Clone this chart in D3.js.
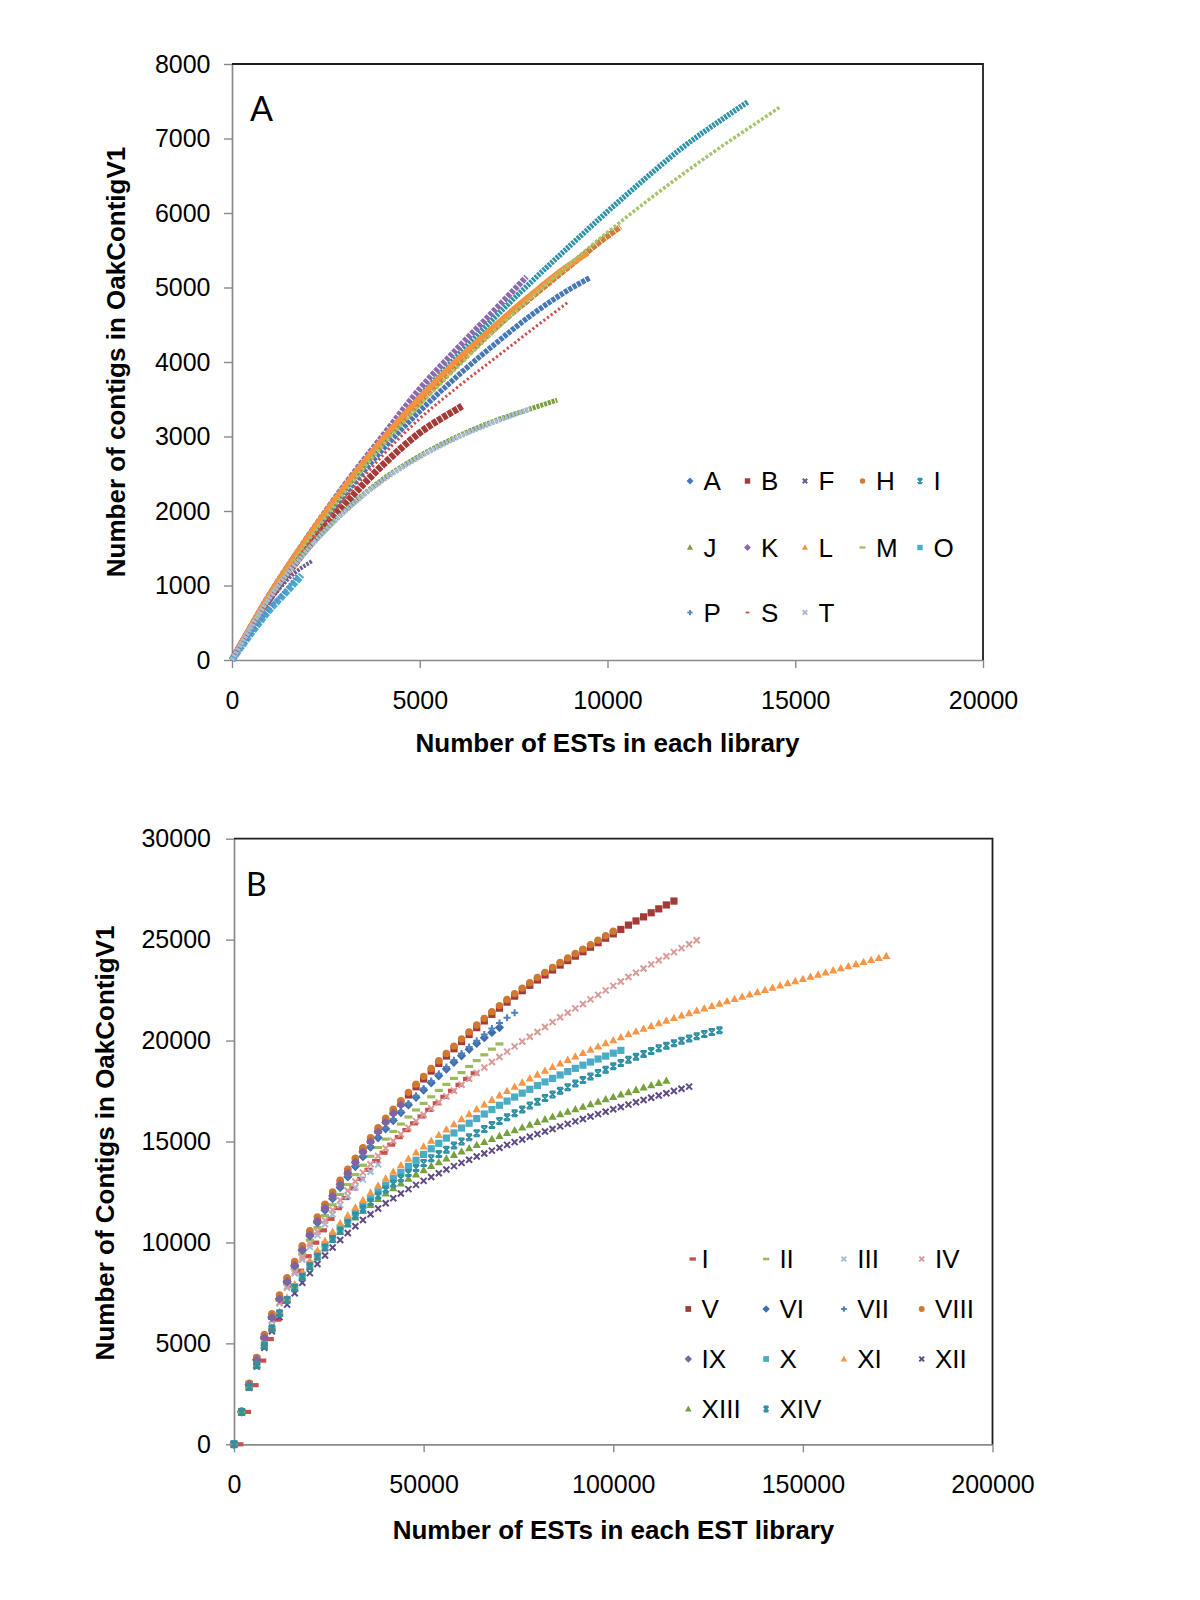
<!DOCTYPE html>
<html><head><meta charset="utf-8">
<script src="https://cdn.jsdelivr.net/npm/d3@7"></script>
<style>
body{margin:0;background:#fff;}
</style></head>
<body>
<svg id="chart" width="1200" height="1600"></svg>
<script>
// ================= Panel A data =================
const libsA = ["A","B","F","H","I","J","K","L","M","O","P","S","T"];
const estA_A = [0,1000,2000,3000,4000,5000,6000,7000,8000,9000,9526];
const conA_A = [0,850,1560,2220,2820,3340,3810,4240,4640,4980,5130];
const estA_B = [0,1000,2000,3000,4000,5000,6000,6128];
const conA_B = [0,820,1500,2090,2610,3050,3370,3409];
const estA_F = [0,500,1000,1500,2148];
const conA_F = [0,420,790,1090,1333];
const estA_H = [0,1000,2000,3000,4000,5000,6000,7000,8000,9000,10000,10343];
const conA_H = [0,860,1610,2290,2910,3460,3970,4450,4880,5290,5690,5815];
const estA_I = [0,1000,2000,3000,4000,5000,6000,7000,8000,9000,10000,11000,12000,13000,13742];
const conA_I = [0,860,1610,2300,2940,3530,4080,4600,5090,5560,6020,6460,6880,7240,7492];
const estA_J = [0,1000,2000,3000,4000,5000,6000,7000,8000,8660];
const conA_J = [0,840,1480,2000,2420,2740,3000,3210,3380,3489];
const estA_K = [0,1000,2000,3000,4000,5000,6000,7000,7843];
const conA_K = [0,880,1640,2350,3000,3640,4180,4700,5144];
const estA_L = [0,1000,2000,3000,4000,5000,6000,7000,8000,9000,9480];
const conA_L = [0,880,1640,2330,2960,3520,4030,4490,4920,5310,5460];
const estA_M = [0,1000,2000,3000,4000,5000,6000,7000,8000,9000,10000,11000,12000,13000,14000,14577];
const conA_M = [0,850,1580,2250,2870,3420,3930,4420,4880,5320,5740,6140,6520,6880,7220,7416];
const estA_O = [0,500,1000,1500,1856];
const conA_O = [0,350,670,940,1141];
const estA_P = [0,500,1000,1500,1750];
const conA_P = [0,360,690,980,1150];
const estA_S = [0,1000,2000,3000,4000,5000,6000,7000,8000,8967];
const conA_S = [0,830,1530,2160,2740,3240,3660,4050,4440,4809];
const estA_T = [0,1000,2000,3000,4000,5000,6000,7000,7944];
const conA_T = [0,835,1470,1990,2405,2725,2985,3195,3370];
const xTicksA = [0,5000,10000,15000,20000];
const yTicksA = [0,1000,2000,3000,4000,5000,6000,7000,8000];

// ================= Panel B data =================
const libsB = ["I","II","III","IV","V","VI","VII","VIII","IX","X","XI","XII","XIII","XIV"];
const estsB = [0,2000,4000,6000,8000,10000,12000,14000,16000,18000,20000,22000,24000,26000,28000,30000,32000,34000,36000,38000,40000,42000,44000,46000,48000,50000,52000,54000,56000,58000,60000,62000,64000,66000,68000,70000,72000,74000,76000,78000,80000,82000,84000,86000,88000,90000,92000,94000,96000,98000,100000,102000,104000,106000,108000,110000,112000,114000,116000,118000,120000,122000,124000,126000,128000,130000,132000,134000,136000,138000,140000,142000,144000,146000,148000,150000,152000,154000,156000,158000,160000,162000,164000,166000,168000,170000,172000];
const conB_I = [0,1604,2930,4145,5215,6175,7055,7860,8600,9315,9990,10600,11170,11700,12200,12680,13150,13600,14030,14445,14845,15215,15565,15900,16240,16570,16895,17210,17510,17805,18095,18380];
const conB_II = [0,1612,2946,4174,5255,6232,7125,7943,8698,9428,10116,10740,11323,11863,12380,12870,13357,13822,14267,14699,15117,15499,15865,16216,16560,16887,17214,17530,17831,18125,18414,18717,19009,19295,19575,19833];
const conB_III = [0,1604,2922,4127,5181,6124,6979,7756,8466,9147,9781,10362,10899,11393,11862,12303,12725,13123,13498,13860];
const conB_IV = [0,1604,2925,4136,5197,6150,7023,7821,8555,9263,9928,10529,11087,11603,12095,12560,13020,13458,13875,14279,14668,15022,15358,15679,16011,16326,16641,16945,17235,17518,17815,18108,18390,18666,18936,19185,19452,19714,19953,20190,20424,20669,20912,21152,21374,21595,21814,22039,22264,22488,22708,22928,23148,23358,23567,23776,23979,24180,24380,24580,24775,24970];
const conB_V = [0,1620,2970,4220,5330,6340,7270,8130,8930,9710,10450,11130,11770,12370,12950,13505,14045,14565,15065,15555,16031,16471,16896,17306,17711,18100,18490,18870,19235,19595,19950,20300,20640,20973,21300,21605,21905,22200,22470,22737,23000,23250,23497,23740,23962,24182,24400,24625,24848,25070,25287,25504,25720,25925,26128,26330,26525,26718,26910];
const conB_VI = [0,1610,2950,4190,5290,6290,7205,8050,8835,9600,10320,10975,11590,12165,12720,13250,13760,14250,14720,15180,15626,16036,16431,16811,17186,17545,17905,18255,18590,18920,19245,19565,19860,20140,20400,20645];
const conB_VII = [0,1610,2950,4190,5290,6290,7210,8055,8840,9605,10330,10990,11610,12190,12750,13285,13800,14295,14770,15235,15686,16101,16501,16886,17266,17630,17995,18350,18690,19025,19355,19680,19995,20303,20600,20875,21135,21380];
const conB_VIII = [0,1650,3030,4310,5440,6470,7400,8260,9060,9840,10580,11260,11900,12500,13080,13635,14175,14695,15195,15685,16161,16601,17026,17436,17841,18230,18620,19000,19365,19725,20080,20430,20770,21103,21430,21735,22035,22330,22600,22867,23130,23380,23627,23870,24092,24312,24530,24755,24978,25200,25417];
const conB_IX = [0,1610,2950,4190,5290,6290,7210,8070,8870,9640,10380,11060,11700,12300,12880,13430,13970,14490,14990,15480,15950,16390,16810];
const conB_X = [0,1600,2850,3920,4880,5720,6480,7170,7800,8380,8920,9420,9880,10310,10710,11090,11460,11820,12170,12510,12840,13160,13470,13770,14070,14360,14640,14910,15170,15422,15667,15905,16136,16361,16580,16793,17000,17201,17396,17586,17771,17951,18126,18296,18462,18624,18782,18936,19086,19232,19374,19515];
const conB_XI = [0,1600,2860,3940,4920,5780,6560,7270,7920,8520,9080,9600,10080,10530,10950,11340,11725,12100,12465,12820,13165,13500,13825,14140,14450,14750,15040,15320,15590,15852,16107,16355,16596,16831,17060,17283,17500,17711,17916,18116,18311,18501,18686,18866,19042,19214,19382,19546,19706,19862,20014,20162,20307,20449,20588,20724,20857,20987,21114,21238,21359,21477,21594,21711,21827,21942,22056,22170,22283,22395,22506,22617,22727,22836,22944,23052,23159,23265,23370,23475,23579,23682,23784,23886,23987,24087,24187];
const conB_XII = [0,1580,2800,3850,4780,5600,6300,6920,7480,8000,8480,8930,9350,9750,10120,10470,10800,11110,11400,11680,11940,12190,12420,12640,12850,13050,13245,13430,13610,13780,13943,14100,14253,14402,14548,14691,14831,14968,15103,15236,15367,15496,15623,15748,15872,15995,16117,16238,16358,16477,16595,16712,16828,16943,17057,17170,17282,17393,17503,17612,17720];
const conB_XIII = [0,1590,2830,3910,4880,5740,6480,7130,7720,8270,8780,9260,9710,10130,10520,10890,11235,11560,11860,12150,12420,12680,12920,13150,13370,13580,13785,13975,14160,14335,14503,14665,14823,14977,15126,15272,15415,15555,15693,15829,15963,16094,16223,16350,16476,16601,16725,16848,16970,17089,17207,17324,17441,17557,17672,17786,17900,18013];
const conB_XIV = [0,1595,2835,3920,4890,5750,6490,7150,7745,8300,8815,9295,9745,10175,10575,10955,11320,11670,12000,12320,12620,12910,13180,13440,13690,13930,14165,14378,14589,14798,15005,15210,15413,15614,15813,16010,16205,16398,16589,16778,16965,17150,17333,17514,17693,17870,18045,18218,18389,18558,18725,18890,19045,19195,19340,19480,19615,19745,19870,19990,20105,20215,20320,20420,20515];
const xTicksB = [0,50000,100000,150000,200000];
const yTicksB = [0,5000,10000,15000,20000,25000,30000];

// ================= tables built from the arrays =================
const zip = (xs, ys) => ys.map((y, i) => [xs[i], y]);
const seriesA = [
  {name:"A", pts: zip(estA_A, conA_A)}, {name:"B", pts: zip(estA_B, conA_B)},
  {name:"F", pts: zip(estA_F, conA_F)}, {name:"H", pts: zip(estA_H, conA_H)},
  {name:"I", pts: zip(estA_I, conA_I)}, {name:"J", pts: zip(estA_J, conA_J)},
  {name:"K", pts: zip(estA_K, conA_K)}, {name:"L", pts: zip(estA_L, conA_L)},
  {name:"M", pts: zip(estA_M, conA_M)}, {name:"O", pts: zip(estA_O, conA_O)},
  {name:"P", pts: zip(estA_P, conA_P)}, {name:"S", pts: zip(estA_S, conA_S)},
  {name:"T", pts: zip(estA_T, conA_T)}
];
const conB = [conB_I,conB_II,conB_III,conB_IV,conB_V,conB_VI,conB_VII,conB_VIII,conB_IX,conB_X,conB_XI,conB_XII,conB_XIII,conB_XIV];
const seriesB = libsB.map((n, i) => ({name: n, pts: zip(estsB, conB[i])}));

// ================= styles =================
const FONT = '"Liberation Sans", Arial, Helvetica, sans-serif';
const styleA = {
  A:{c:"#4677B6", w:5.5, d:"4,1",     m:"diamond"},
  B:{c:"#A33B38", w:7,   d:"5,1",     m:"square"},
  F:{c:"#6B5A94", w:4,   d:"2.5,1.2", m:"x"},
  H:{c:"#D47A35", w:6,   d:"5,0.8",   m:"circle"},
  I:{c:"#2F92AA", w:5.5, d:"2.6,1",   m:"star"},
  J:{c:"#7AA03E", w:5,   d:"3,1",     m:"triangle"},
  K:{c:"#8B6BB0", w:6,   d:"4,1.2",   m:"diamond"},
  L:{c:"#F4923E", w:5.5, d:null,      m:"triangle"},
  M:{c:"#A6C46A", w:3.5, d:"3,1.8",   m:"dash"},
  O:{c:"#47ADCC", w:7,   d:"5,1",     m:"square"},
  P:{c:"#5B8BC9", w:4,   d:"2,1.5",   m:"plus"},
  S:{c:"#CC4E4A", w:3,   d:"2.2,2.4", m:"dashS"},
  T:{c:"#A9BADB", w:5,   d:"2.6,1",   m:"x"}
};
const styleB = {
  I:{c:"#C9504D", m:"dashI"}, II:{c:"#9BBB59", m:"dash"}, III:{c:"#A7B9DA", m:"x"},
  IV:{c:"#D99A98", m:"x"}, V:{c:"#A23B37", m:"square"}, VI:{c:"#3E6DAF", m:"diamond"},
  VII:{c:"#4F81BD", m:"plus"}, VIII:{c:"#D1782F", m:"circle"}, IX:{c:"#8064A2", m:"diamond"},
  X:{c:"#4BACC6", m:"square"}, XI:{c:"#F79646", m:"triangle"}, XII:{c:"#604A86", m:"x"},
  XIII:{c:"#77A13E", m:"triangle"}, XIV:{c:"#2F8FA3", m:"star"}
};
// marker shapes centred on 0,0 ; fill:true means filled shape, else stroked
const shapes = {
  square:  {d:"M-3.6,-3.6h7.2v7.2h-7.2z", fill:true},
  diamond: {d:"M0,-4.6L4.6,0L0,4.6L-4.6,0Z", fill:true},
  circle:  {d:d3.symbol(d3.symbolCircle, 42)(), fill:true},
  triangle:{d:"M0,-4.3L4.1,3H-4.1Z", fill:true},
  dash:    {d:"M-4,-1.6h8v3.2h-8z", fill:true},
  dashS:   {d:"M-2.5,-1.2h5v2.4h-5z", fill:true},
  dashI:   {d:"M1.5,-2.1h8v4.2h-8z", fill:true},
  x:       {d:"M-3,-3L3,3M-3,3L3,-3", fill:false},
  star:    {d:"M-3,-3L3,3M-3,3L3,-3M-3,-3H3M-3,3H3", fill:false},
  plus:    {d:"M-3.5,0H3.5M0,-3.5V3.5", fill:false}
};
function marker(sel, m, color, scale) {
  const s = shapes[m];
  sel.attr("d", s.d)
     .attr("fill", s.fill ? color : "none")
     .attr("stroke", s.fill ? "none" : color)
     .attr("stroke-width", s.fill ? 0 : 2 / (scale || 1));
}

const svg = d3.select("#chart");

function drawAxes(x, y, xt, yt, yPad, xPad) {
  const g = svg.append("g");
  const [x0] = x.range(); const [y0] = y.range();
  const ya = g.append("g").attr("transform", `translate(${x0},0)`)
    .call(d3.axisLeft(y).tickValues(yt).tickSize(8).tickSizeOuter(0).tickPadding(yPad).tickFormat(d3.format("d")));
  const xa = g.append("g").attr("transform", `translate(0,${y0})`)
    .call(d3.axisBottom(x).tickValues(xt).tickSize(8).tickSizeOuter(0).tickPadding(xPad).tickFormat(d3.format("d")));
  [ya, xa].forEach(a => {
    a.select(".domain").attr("stroke", "#8a8a8a").attr("stroke-width", 1.7);
    a.selectAll(".tick line").attr("stroke", "#8a8a8a").attr("stroke-width", 1.4);
    a.selectAll("text").attr("font-size", 25).attr("font-family", FONT).attr("fill", "#000");
  });
}
function drawFrame(x, y) {
  const [x0, x1] = x.range(); const [y0, y1] = y.range();
  svg.append("path").attr("d", `M${x0},${y1}H${x1}V${y0}`)
    .attr("fill", "none").attr("stroke", "#1e1e1e").attr("stroke-width", 1.8);
}

// ================= Panel A =================
const xA = d3.scaleLinear().domain([0, 20000]).range([232, 983]);
const yA = d3.scaleLinear().domain([0, 8000]).range([660, 64]);
drawAxes(xA, yA, xTicksA, yTicksA, 13.5, 23.5);
drawFrame(xA, yA);
const lineA = d3.line().x(d => xA(d[0])).y(d => yA(d[1])).curve(d3.curveMonotoneX);
svg.append("g").selectAll("path").data(seriesA).join("path")
  .attr("d", s => lineA(s.pts))
  .attr("fill", "none")
  .attr("stroke", s => styleA[s.name].c)
  .attr("stroke-width", s => styleA[s.name].w)
  .attr("stroke-dasharray", s => styleA[s.name].d)
  .attr("stroke-linecap", "butt");

svg.append("text").attr("x", 250).attr("y", 120.5).text("A")
  .attr("font-family", "Lato, 'Open Sans', sans-serif").attr("font-size", 34).attr("fill", "#000");
svg.append("text").attr("x", 607.5).attr("y", 752).attr("text-anchor", "middle")
  .attr("font-family", FONT).attr("font-weight", "bold").attr("font-size", 26)
  .text("Number of ESTs in each library");
svg.append("text").attr("transform", "translate(125,362) rotate(-90)").attr("text-anchor", "middle")
  .attr("font-family", FONT).attr("font-weight", "bold").attr("font-size", 26)
  .text("Number of contigs in OakContigV1");

// legend A
const legA = svg.append("g").selectAll("g").data(libsA).join("g")
  .attr("transform", (d, i) => `translate(${690 + 57.5 * (i % 5)},${[481, 547.5, 612.5][Math.floor(i / 5)]})`);
legA.append("path").each(function(d) { marker(d3.select(this).attr("transform", "scale(0.75)"), styleA[d].m, styleA[d].c, 0.75); });
legA.append("text").attr("x", 13.5).attr("dy", "0.36em").attr("font-family", FONT).attr("font-size", 26).text(d => d);

// ================= Panel B =================
const xB = d3.scaleLinear().domain([0, 200000]).range([234, 992.5]);
const yB = d3.scaleLinear().domain([0, 30000]).range([1444.3, 838.7]);
drawAxes(xB, yB, xTicksB, yTicksB, 15, 23);
drawFrame(xB, yB);
const gB = svg.append("g");
seriesB.forEach(s => {
  const st = styleB[s.name];
  gB.append("g").selectAll("path").data(s.pts).join("path")
    .attr("transform", d => `translate(${xB(d[0])},${yB(d[1])})`)
    .each(function() { marker(d3.select(this), st.m, st.c, 1); });
});

svg.append("text").attr("x", 246).attr("y", 895.5).text("B")
  .attr("font-family", "Lato, 'Open Sans', sans-serif").attr("font-size", 32).attr("fill", "#000");
svg.append("text").attr("x", 613.5).attr("y", 1539).attr("text-anchor", "middle")
  .attr("font-family", FONT).attr("font-weight", "bold").attr("font-size", 26)
  .text("Number of ESTs in each EST library");
svg.append("text").attr("transform", "translate(114,1143) rotate(-90)").attr("text-anchor", "middle")
  .attr("font-family", FONT).attr("font-weight", "bold").attr("font-size", 26)
  .text("Number of Contigs in OakContigV1");

// legend B
const legB = svg.append("g").selectAll("g").data(libsB).join("g")
  .attr("transform", (d, i) => `translate(${688.3 + 77.8 * (i % 4)},${1259 + 50 * Math.floor(i / 4)})`);
legB.append("path").each(function(d) { marker(d3.select(this).attr("transform", "scale(0.8)"), styleB[d].m, styleB[d].c, 0.8); });
legB.append("text").attr("x", 13.3).attr("dy", "0.36em").attr("font-family", FONT).attr("font-size", 26).text(d => d);
</script>
</body></html>
